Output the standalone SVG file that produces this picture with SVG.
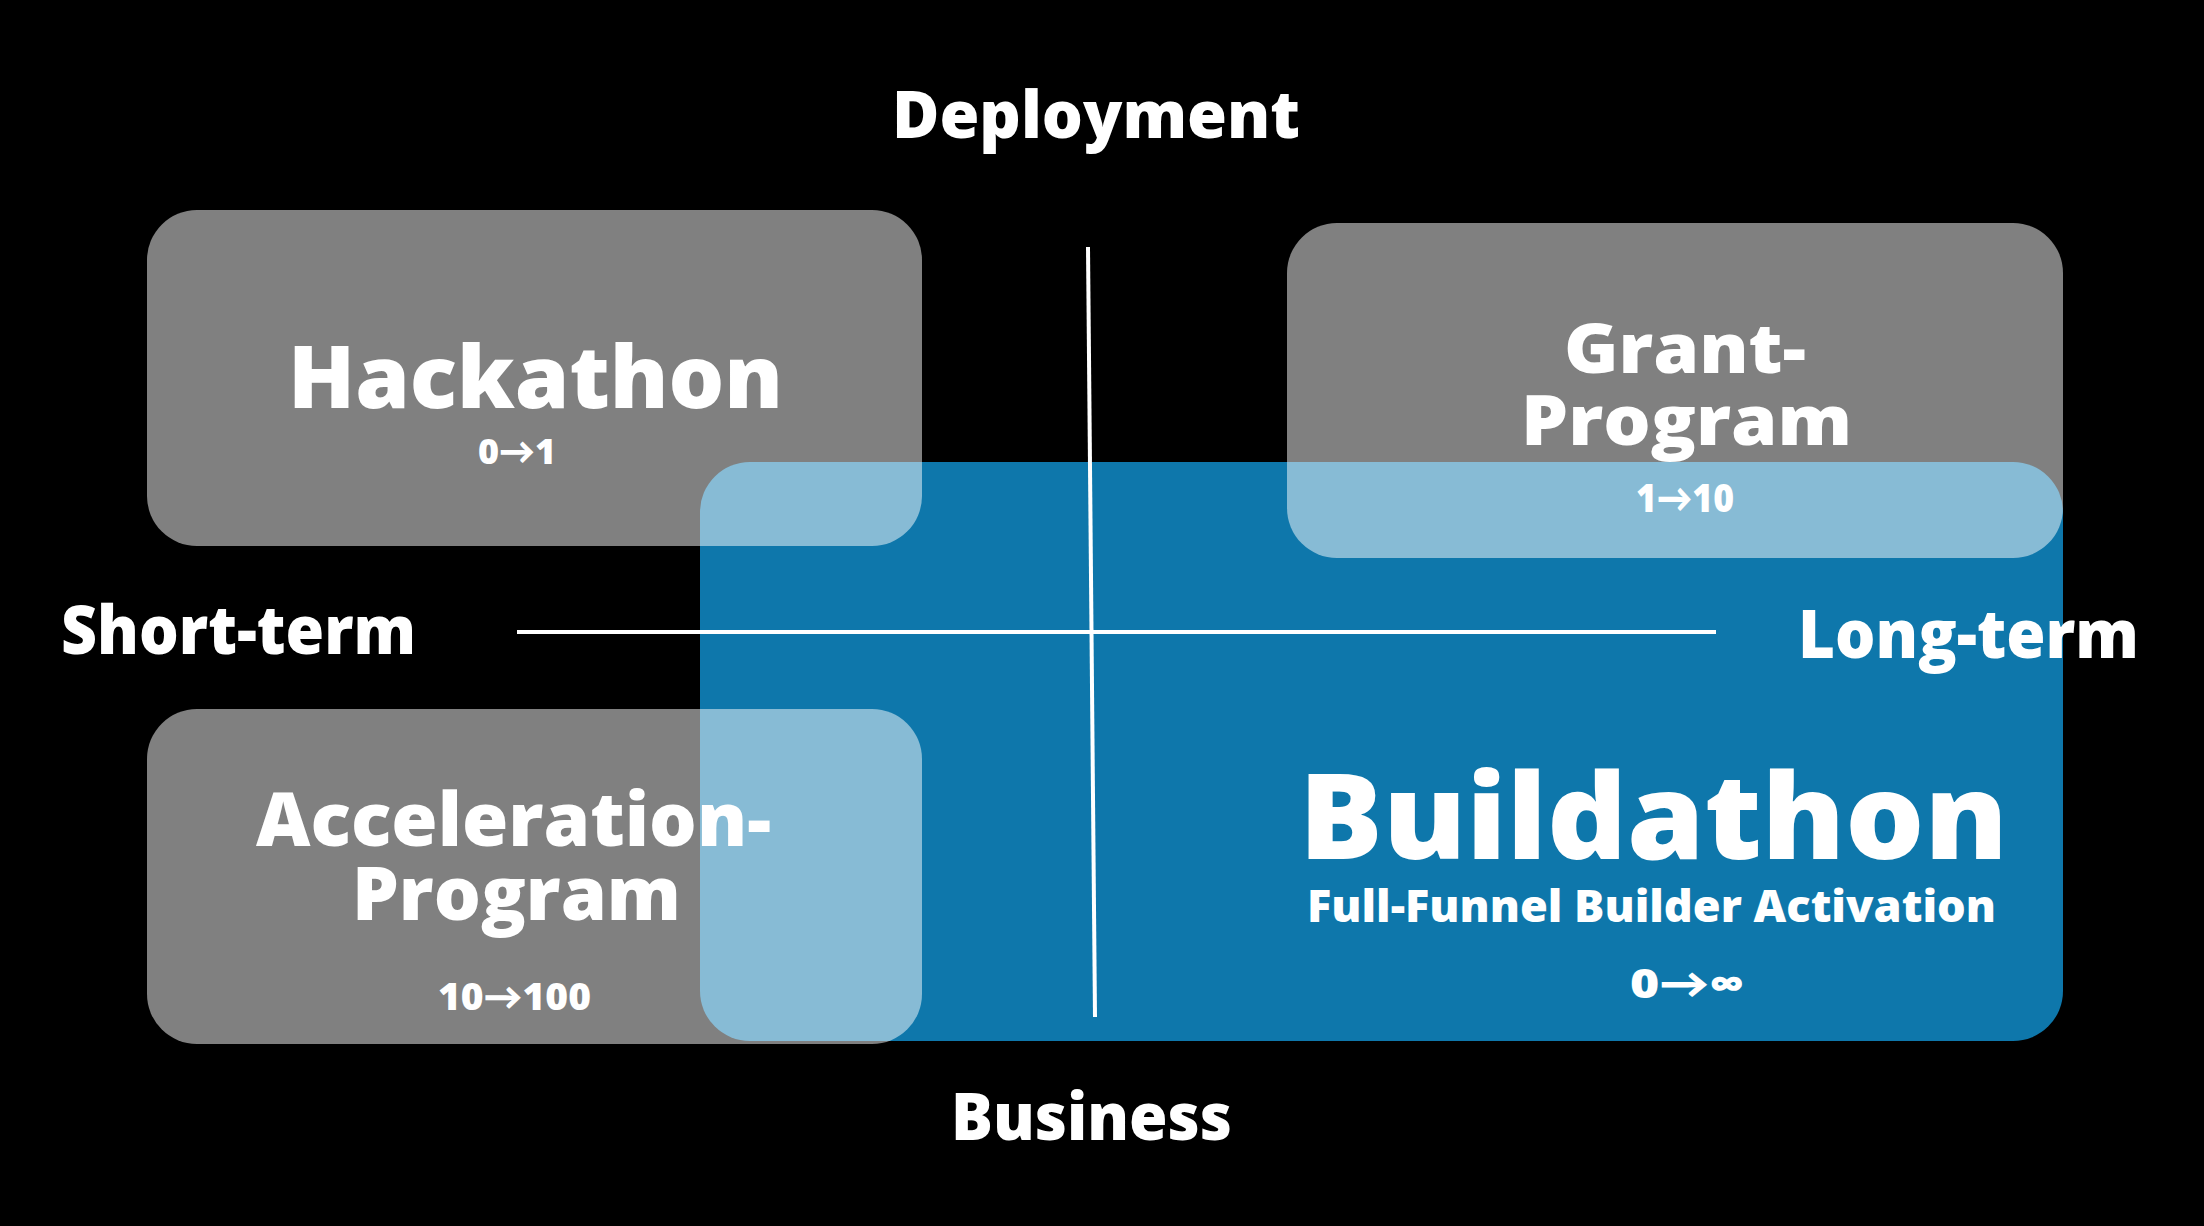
<svg xmlns="http://www.w3.org/2000/svg" width="2204" height="1226" viewBox="0 0 2204 1226">
  <style>
    .t { font-family: "Open Sans", Lato, "Liberation Sans", sans-serif; font-weight: 800; fill: #ffffff; }
    .box { fill: #ffffff; fill-opacity: 0.5; }
    .axis { stroke: #ffffff; stroke-width: 4; fill: none; }
  </style>
  <rect x="0" y="0" width="2204" height="1226" fill="#000000"/>

  <g id="buildathon">
    <rect x="700" y="462" width="1363" height="579" rx="50" ry="50" fill="#0e77ab"/>
  </g>

  <g id="hackathon">
    <rect class="box" x="147" y="210" width="775" height="336" rx="50" ry="50"/>
  </g>
  <g id="grant-program">
    <rect class="box" x="1287" y="223" width="776" height="335" rx="50" ry="50"/>
  </g>
  <g id="acceleration-program">
    <rect class="box" x="147" y="709" width="775" height="335" rx="50" ry="50"/>
  </g>

  <g id="connectors">
    <line class="axis" x1="517" y1="632" x2="1716" y2="632"/>
    <line class="axis" x1="1088" y1="247" x2="1095" y2="1017"/>
  </g>

  <g id="labels">
    <text class="t" x="892" y="138" font-size="65" textLength="408" lengthAdjust="spacingAndGlyphs">Deployment</text>
    <text class="t" x="951" y="1140" font-size="65" textLength="281" lengthAdjust="spacingAndGlyphs">Business</text>
    <text class="t" x="61" y="654" font-size="68" textLength="355" lengthAdjust="spacingAndGlyphs">Short-term</text>
    <text class="t" x="1798" y="658" font-size="67" textLength="341" lengthAdjust="spacingAndGlyphs">Long-term</text>
  </g>

  <g id="hackathon-text">
    <text class="t" x="288" y="408" font-size="87" textLength="495" lengthAdjust="spacingAndGlyphs">Hackathon</text>
    <text class="t" x="478" y="464" font-size="36" textLength="78" lengthAdjust="spacingAndGlyphs">0→1</text>
  </g>
  <g id="grant-text">
    <text class="t" x="1564" y="373" font-size="69" textLength="242" lengthAdjust="spacingAndGlyphs">Grant-</text>
    <text class="t" x="1521" y="445" font-size="69" textLength="331" lengthAdjust="spacingAndGlyphs">Program</text>
    <text class="t" x="1636" y="512" font-size="39" textLength="98" lengthAdjust="spacingAndGlyphs">1→10</text>
  </g>
  <g id="acceleration-text">
    <text class="t" x="256" y="846" font-size="74" textLength="515" lengthAdjust="spacingAndGlyphs">Acceleration-</text>
    <text class="t" x="352" y="920" font-size="74" textLength="329" lengthAdjust="spacingAndGlyphs">Program</text>
    <text class="t" x="438" y="1010" font-size="37" textLength="153" lengthAdjust="spacingAndGlyphs">10→100</text>
  </g>
  <g id="buildathon-text">
    <text class="t" x="1299" y="859" font-size="119" textLength="709" lengthAdjust="spacingAndGlyphs">Buildathon</text>
    <text class="t" x="1307" y="922" font-size="44" textLength="689" lengthAdjust="spacingAndGlyphs">Full-Funnel Builder Activation</text>
    <text class="t" x="1630" y="998" font-size="41" textLength="114" lengthAdjust="spacingAndGlyphs">0→∞</text>
  </g>
</svg>
